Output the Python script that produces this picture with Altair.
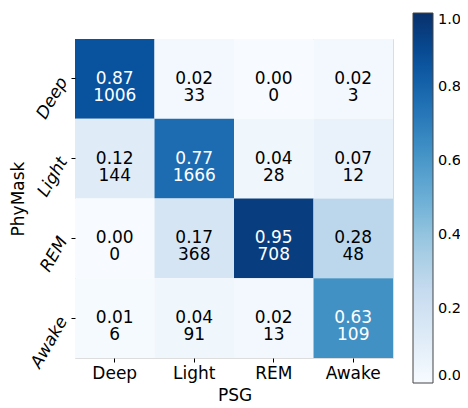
import altair as alt
import pandas as pd

classes = ["Deep", "Light", "REM", "Awake"]
# rows: PhyMask (predicted), columns: PSG (reference)
fractions = [
    [0.87, 0.02, 0.00, 0.02],
    [0.12, 0.77, 0.04, 0.07],
    [0.00, 0.17, 0.95, 0.28],
    [0.01, 0.04, 0.02, 0.63],
]
counts = [
    [1006, 33, 0, 3],
    [144, 1666, 28, 12],
    [0, 368, 708, 48],
    [6, 91, 13, 109],
]
legend_ticks = [0.0, 0.2, 0.4, 0.6, 0.8, 1.0]
# matplotlib "Blues" colormap anchor colours
blues_stops = [0.0, 0.125, 0.25, 0.375, 0.5, 0.625, 0.75, 0.875, 1.0]
blues_colors = ["#f7fbff", "#deebf7", "#c6dbef", "#9ecae1", "#6baed6",
                "#4292c6", "#2171b5", "#08519c", "#08306b"]

rows = []
for i, r in enumerate(classes):
    for j, c in enumerate(classes):
        rows.append({
            "PhyMask": r,
            "PSG": c,
            "value": fractions[i][j],
            "label": f"{fractions[i][j]:.2f}\n{counts[i][j]}",
        })
df = pd.DataFrame(rows)

FONT = "DejaVu Sans"

x_enc = alt.X("PSG:N", sort=classes, scale=alt.Scale(paddingInner=0, paddingOuter=0),
              axis=alt.Axis(title="PSG", labelAngle=0, labelFontSize=17, titleFontSize=17,
                            labelFont=FONT, titleFont=FONT, labelColor="black", titleColor="black",
                            tickSize=4, tickColor="black", domain=False, labelPadding=3,
                            titleFontWeight="normal", titleX=159.5, titleY=37,
                            titleBaseline="middle", titleAlign="center"))
y_enc = alt.Y("PhyMask:N", sort=classes, scale=alt.Scale(paddingInner=0, paddingOuter=0),
              axis=alt.Axis(title="PhyMask", labelAngle=300, labelFontStyle="italic",
                            labelAlign="right", labelBaseline="middle",
                            labelFontSize=17, titleFontSize=17,
                            labelFont=FONT, titleFont=FONT, labelColor="black", titleColor="black",
                            tickSize=4, tickColor="black", domain=False, labelPadding=8,
                            titleFontWeight="normal", titleAngle=270, titleX=-57, titleY=159.5,
                            titleBaseline="middle", titleAlign="center"))

base = alt.Chart(df)

rect = base.mark_rect().encode(
    x=x_enc,
    y=y_enc,
    color=alt.Color("value:Q",
                    scale=alt.Scale(domain=blues_stops, range=blues_colors, interpolate="rgb"),
                    legend=alt.Legend(title=None, orient="none", legendX=338, legendY=-26,
                                      direction="vertical", gradientLength=370,
                                      gradientThickness=20, gradientStrokeColor="#444",
                                      gradientStrokeWidth=1, values=legend_ticks, format=".1f",
                                      labelFontSize=14.5, labelFont=FONT, labelColor="black",
                                      labelOffset=5, padding=0, labelOverlap=False,
                                      labelBaseline="middle")),
)

text = base.mark_text(fontSize=17, font=FONT, lineBreak="\n", lineHeight=17,
                      baseline="middle").encode(
    x=alt.X("PSG:N", sort=classes),
    y=alt.Y("PhyMask:N", sort=classes),
    text="label:N",
    color=alt.condition(alt.datum.value > 0.5, alt.value("white"), alt.value("black")),
)

chart = (rect + text).properties(
    width=318, height=319,
    autosize=alt.AutoSizeParams(type="none"),
    padding={"left": 67, "top": 31, "right": 67, "bottom": 50},
).configure_view(stroke="black", strokeWidth=1).configure(background="white")

chart.save("out.html", embed_options={"renderer": "svg", "actions": False})
